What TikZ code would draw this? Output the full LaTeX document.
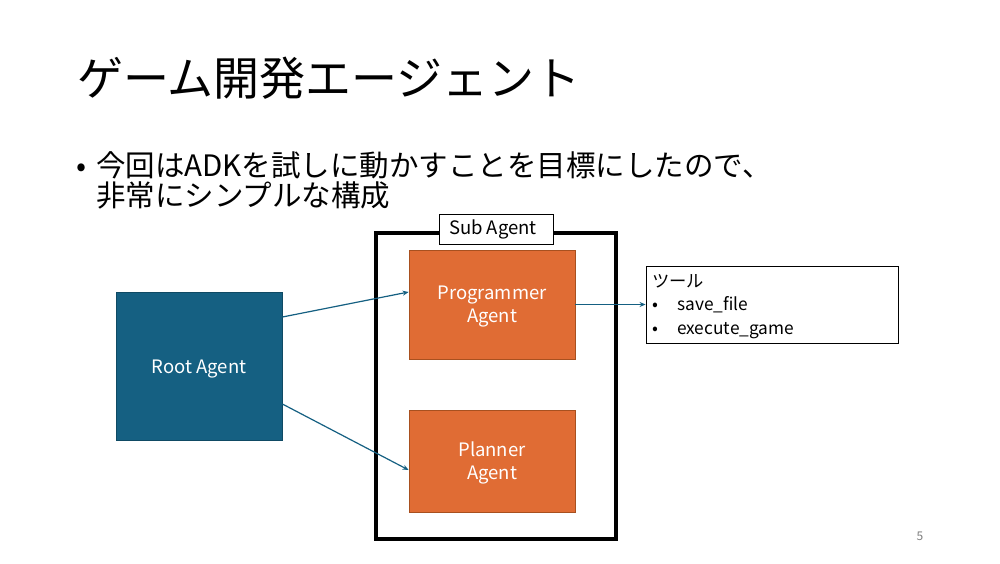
\documentclass[tikz,border=0pt]{standalone}
\usepackage{fontspec}
\setmainfont{Noto Sans CJK JP}
\usetikzlibrary{calc,arrows.meta}
\definecolor{rootblue}{HTML}{156082}
\definecolor{rootedge}{HTML}{0F4A64}
\definecolor{agentorange}{HTML}{E06C34}
\definecolor{orangeedge}{HTML}{A8501F}
\definecolor{pagegray}{HTML}{808080}
\tikzset{
  boxtext/.style={text=white, inner sep=0pt, align=center, font=\fontsize{18.5}{23}\selectfont},
  agentbox/.style={draw=orangeedge, fill=agentorange, line width=0.8pt, inner sep=0pt},
  rootbox/.style={draw=rootedge, fill=rootblue, line width=0.8pt, inner sep=0pt},
  link/.style={draw=rootblue, line width=1.2pt, -{Stealth[length=6pt,width=5pt]}},
}
\begin{document}
\begin{tikzpicture}[x=1pt,y=-1pt]
\useasboundingbox (0,0) rectangle (1000,563);
\fill[white] (0,0) rectangle (1000,563);
% title
\node[anchor=base west, inner sep=0pt, font=\fontsize{46}{50}\selectfont] (title) at (77,95) {ゲーム開発エージェント};
% bullet text
\node[anchor=base west, inner sep=0pt, font=\fontsize{29.5}{30}\selectfont] (bul) at (76,176) {•};
\node[anchor=base west, inner sep=0pt, font=\fontsize{29.5}{30}\selectfont] (line1) at (96,176) {今回はADKを試しに動かすことを目標にしたので、};
\node[anchor=base west, inner sep=0pt, font=\fontsize{29.5}{30}\selectfont] (line2) at (96,206) {非常にシンプルな構成};
% sub agent frame
\node[draw=black, line width=4pt, minimum width=240pt, minimum height=306pt, inner sep=0pt] (sub) at (496,386) {};
\node[draw=black, fill=white, line width=0.9pt, minimum width=114pt, minimum height=30pt, inner sep=0pt,
  font=\fontsize{18.5}{20}\selectfont] (sublabel) at (496,229) {\hspace*{-6pt}Sub Agent};
% agents
\node[rootbox, minimum width=166pt, minimum height=148pt] (root) at (199,366) {};
\node[agentbox, minimum width=166pt, minimum height=109pt] (prog) at (492,304.5) {};
\node[agentbox, minimum width=166pt, minimum height=102pt] (plan) at (492,461) {};
\node[boxtext, yshift=-3pt] (roottext) at (root.center) {Root Agent};
\node[boxtext, yshift=-2.5pt] (progtext) at (prog.center) {Programmer\\Agent};
\node[boxtext, yshift=-2pt] (plantext) at (plan.center) {Planner\\Agent};
% tools box
\node[draw=black, line width=0.9pt, minimum width=252pt, minimum height=77pt, inner sep=0pt] (tool) at (772,304.5) {};
\node[anchor=north west, inner sep=0pt, align=left, font=\fontsize{17.3}{23.5}\selectfont] (tooltext) at (652,274)
  {ツール\\\makebox[25pt][l]{•}save\_file\\\makebox[25pt][l]{•}execute\_game};
% connectors
\draw[link] ($(root.east)+(0,-49)$) -- ($(prog.west)+(0,-12.5)$);
\draw[link] ($(root.east)+(0,38)$) -- ($(plan.west)+(0,9)$);
\draw[link] (prog.east) -- (tool.west);
% page number
\node[text=pagegray, inner sep=0pt, font=\fontsize{12}{14}\selectfont] (pagenum) at (920,536) {5};
\end{tikzpicture}
\end{document}
